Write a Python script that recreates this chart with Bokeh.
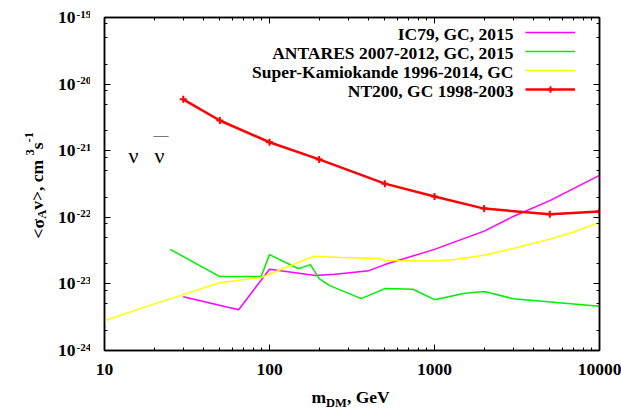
import math
from bokeh.plotting import figure
from bokeh.layouts import row, column
from bokeh.models import (FixedTicker, LogAxis, Label, LabelSet, Legend, LegendItem,
                          ColumnDataSource, CustomJSTickFormatter, Range1d)
from bokeh.embed import file_html
from bokeh.resources import INLINE

FONT = "Liberation Serif"

# ---------------- data ----------------
ic79_mass = [30, 65, 100, 190, 250, 400, 500, 1000, 2000, 3000, 5000, 10000]
ic79_sigma = [6.4e-24, 4.1e-24, 1.66e-23, 1.34e-23, 1.40e-23, 1.58e-23, 1.95e-23,
              3.3e-23, 6.2e-23, 1.03e-22, 1.78e-22, 4.26e-22]

antares_mass = [25, 50, 89, 100, 150, 177, 200, 230, 360, 500, 740, 1000, 1500, 2000, 3000, 10000]
antares_sigma = [3.3e-23, 1.29e-23, 1.29e-23, 2.75e-23, 1.69e-23, 1.95e-23, 1.2e-23, 9.5e-24,
                 6.0e-24, 8.5e-24, 8.3e-24, 5.8e-24, 7.2e-24, 7.7e-24, 6.0e-24, 4.6e-24]

superk_mass = [10, 18, 30, 50, 90, 185, 270, 470, 500, 1000, 1300, 2000, 3000, 5000, 7000, 10000]
superk_sigma = [2.8e-24, 4.6e-24, 6.9e-24, 1.04e-23, 1.26e-23, 2.6e-23, 2.5e-23, 2.4e-23,
                2.25e-23, 2.2e-23, 2.3e-23, 2.7e-23, 3.4e-23, 4.7e-23, 6.0e-23, 8.4e-23]

nt200_mass = [30, 50, 100, 200, 500, 1000, 2000, 5000, 10000]
nt200_sigma = [5.9e-21, 2.84e-21, 1.34e-21, 7.4e-22, 3.2e-22, 2.05e-22, 1.35e-22, 1.11e-22, 1.22e-22]

series_labels = ["IC79, GC, 2015", "ANTARES 2007-2012, GC, 2015",
                 "Super-Kamiokande 1996-2014, GC", "NT200, GC 1998-2003"]
series_colors = ["#ff00ff", "#00ee00", "#ffff00", "#ff0000"]

x_major = [10, 100, 1000, 10000]
y_major = [1e-24, 1e-23, 1e-22, 1e-21, 1e-20, 1e-19]
y_exponents = ["-24", "-23", "-22", "-21", "-20", "-19"]

x_minor = [m * 10.0 ** e for e in range(1, 4) for m in range(2, 10)]
y_minor = [m * 10.0 ** e for e in range(-24, -19) for m in (2, 5, 8)]

Y_LO, Y_HI = 1e-24, 1e-19

# ---------------- layout geometry (pixels) ----------------
LEFT_W = 90                      # strip holding the y tick labels and the y title
MAIN_W, MAIN_H = 531, 387
BOT_H = 410 - MAIN_H             # strip holding the x title
FR_L, FR_R, FR_T, FR_B = 14, 22, 17, 37
FRAME_H = MAIN_H - FR_T - FR_B

# ---------------- main figure ----------------
p = figure(width=MAIN_W, height=MAIN_H, x_axis_type="log", y_axis_type="log",
           x_range=Range1d(10, 10000), y_range=Range1d(Y_LO, Y_HI),
           output_backend="svg", toolbar_location=None,
           min_border_left=FR_L, min_border_right=FR_R, min_border_top=FR_T,
           min_border_bottom=FR_B)
p.xgrid.visible = False
p.ygrid.visible = False
p.outline_line_color = "black"
p.outline_line_width = 1.5
p.background_fill_color = "white"
p.border_fill_color = "white"

bottom_axis = p.below[0]
left_axis = p.left[0]

xt = FixedTicker(ticks=x_major, minor_ticks=x_minor)
yt = FixedTicker(ticks=y_major, minor_ticks=y_minor)

blank = CustomJSTickFormatter(code="return '';")
top_axis = LogAxis(ticker=xt, formatter=blank)
right_axis = LogAxis(ticker=yt, formatter=blank)
p.add_layout(top_axis, "above")
p.add_layout(right_axis, "right")

bottom_axis.ticker = xt
left_axis.ticker = yt
left_axis.formatter = blank

for ax in [bottom_axis, top_axis, left_axis, right_axis]:
    ax.axis_line_color = "black"
    ax.axis_line_width = 1.5
    ax.major_tick_line_color = "black"
    ax.minor_tick_line_color = "black"
    ax.major_tick_line_width = 1
    ax.minor_tick_line_width = 1
    ax.major_tick_in = 6
    ax.major_tick_out = 0
    ax.minor_tick_in = 3
    ax.minor_tick_out = 0
    ax.major_label_text_font = FONT
    ax.major_label_text_font_style = "bold"
    ax.major_label_text_font_size = "17.5px"
    ax.major_label_text_color = "black"

for ax in [top_axis, right_axis, left_axis]:
    ax.major_label_standoff = 0

bottom_axis.formatter = CustomJSTickFormatter(code="return Math.round(tick).toString();")
bottom_axis.major_label_standoff = 13

# ---------------- series ----------------
r_ic = p.line(ic79_mass, ic79_sigma, line_color=series_colors[0], line_width=1.5)
r_an = p.line(antares_mass, antares_sigma, line_color=series_colors[1], line_width=1.5)
r_sk = p.line(superk_mass, superk_sigma, line_color=series_colors[2], line_width=1.5)
r_nt = p.line(nt200_mass, nt200_sigma, line_color=series_colors[3], line_width=2.5)
r_ntm = p.scatter(nt200_mass, nt200_sigma, marker="cross", size=7,
                  line_color=series_colors[3], line_width=2)

# ---------------- legend (samples on the right of texts) ----------------
legend = Legend(items=[
    LegendItem(label=" ", renderers=[r_ic]),
    LegendItem(label=" ", renderers=[r_an]),
    LegendItem(label=" ", renderers=[r_sk]),
    LegendItem(label=" ", renderers=[r_nt, r_ntm]),
], location=(421, 252.7), glyph_width=50, glyph_height=16, label_height=16,
    label_width=1, label_standoff=0, spacing=3, padding=0, margin=0,
    border_line_alpha=0, background_fill_alpha=0, label_text_font_size="10px")
p.add_layout(legend, "center")

for i, t in enumerate(series_labels):
    p.add_layout(Label(x=409, y=316.7 - 18.9 * i, x_units="screen", y_units="screen",
                       text=t, text_align="right", text_baseline="middle",
                       text_font=FONT, text_font_style="bold", text_font_size="17.5px",
                       text_color="black"))

# nu nu-bar
for t, x, y, s in [("ν", 24, 195, "22px"), ("ν", 50, 195, "22px"), ("—", 49, 216, "15px")]:
    p.add_layout(Label(x=x, y=y, x_units="screen", y_units="screen", text=t,
                       text_align="left", text_baseline="alphabetic", text_font=FONT,
                       text_font_size=s, text_color="black"))

# ---------------- left strip: y tick labels 10^n and y title ----------------
dec_px = FRAME_H / math.log10(Y_HI / Y_LO)
left_range = Range1d(Y_LO / 10 ** ((FR_B + BOT_H) / dec_px), Y_HI * 10 ** (FR_T / dec_px))
lf = figure(width=LEFT_W, height=410, x_range=Range1d(0, 1), y_range=left_range,
            y_axis_type="log", x_axis_location=None, y_axis_location=None,
            output_backend="svg", toolbar_location=None,
            min_border_left=0, min_border_right=0, min_border_top=0, min_border_bottom=0)
lf.grid.visible = False
lf.outline_line_color = None
lf.background_fill_color = "white"
lf.border_fill_color = "white"

ysrc = ColumnDataSource(dict(y=y_major, base=["10"] * len(y_major), exp=y_exponents))
lf.add_layout(LabelSet(x=75, x_units="screen", y="y", y_units="data", text="base", source=ysrc,
                       text_align="right", text_baseline="middle", text_font=FONT,
                       text_font_style="bold", text_font_size="17.5px", text_color="black"))
lf.add_layout(LabelSet(x=76, x_units="screen", y="y", y_units="data", text="exp", source=ysrc,
                       text_align="left", text_baseline="alphabetic", text_font=FONT,
                       text_font_style="bold", text_font_size="11px", text_color="black"))

ylab = ColumnDataSource(dict(
    text=["<σ", "A", " v>, cm", "3", "s", "-1"],
    x=[43, 46, 43, 33, 43, 33],
    y=[172, 191.8, 200.8, 255, 261.3, 268.1],
    size=["17.5px", "12.5px", "17.5px", "12.5px", "17.5px", "12.5px"]))
lf.add_layout(LabelSet(x="x", y="y", text="text", source=ylab, x_units="screen", y_units="screen",
                       angle=math.pi / 2, text_align="left", text_baseline="alphabetic",
                       text_font=FONT, text_font_style="bold", text_font_size="size",
                       text_color="black"))

# ---------------- bottom strip: x title ----------------
bf = figure(width=MAIN_W, height=BOT_H, x_range=Range1d(0, 1), y_range=Range1d(0, 1),
            x_axis_location=None, y_axis_location=None,
            output_backend="svg", toolbar_location=None,
            min_border_left=0, min_border_right=0, min_border_top=0, min_border_bottom=0)
bf.grid.visible = False
bf.outline_line_color = None
bf.background_fill_color = "white"
bf.border_fill_color = "white"
xlab = ColumnDataSource(dict(
    text=["m", "DM", ", GeV"],
    x=[207, 221.6, 242.4],
    y=[8, 4, 8],
    size=["17.5px", "12.5px", "17.5px"]))
bf.add_layout(LabelSet(x="x", y="y", text="text", source=xlab, x_units="screen", y_units="screen",
                       text_align="left", text_baseline="alphabetic",
                       text_font=FONT, text_font_style="bold", text_font_size="size",
                       text_color="black"))

layout = row(lf, column(p, bf, spacing=0), spacing=0)
open("out.html", "w").write(file_html(layout, INLINE))
